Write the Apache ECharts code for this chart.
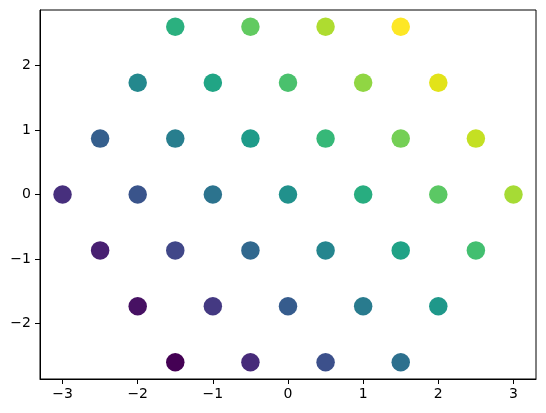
<!DOCTYPE html>
<html>
<head>
<meta charset="utf-8">
<script src="https://cdn.jsdelivr.net/npm/echarts@6/dist/echarts.min.js"></script>
<style>
html,body{margin:0;padding:0;background:#fff;}
#chart{width:546px;height:413px;}
</style>
</head>
<body>
<div id="chart"></div>
<script>
// Hexagonal grid points, row by row from top to bottom
const xVals = [
  -1.5, -0.5, 0.5, 1.5,
  -2, -1, 0, 1, 2,
  -2.5, -1.5, -0.5, 0.5, 1.5, 2.5,
  -3, -2, -1, 0, 1, 2, 3,
  -2.5, -1.5, -0.5, 0.5, 1.5, 2.5,
  -2, -1, 0, 1, 2,
  -1.5, -0.5, 0.5, 1.5
];
const yVals = [
  2.598, 2.598, 2.598, 2.598,
  1.732, 1.732, 1.732, 1.732, 1.732,
  0.866, 0.866, 0.866, 0.866, 0.866, 0.866,
  0, 0, 0, 0, 0, 0, 0,
  -0.866, -0.866, -0.866, -0.866, -0.866, -0.866,
  -1.732, -1.732, -1.732, -1.732, -1.732,
  -2.598, -2.598, -2.598, -2.598
];
// Colour values (viridis scale)
const colorVals = [
  1.10, 2.10, 3.10, 4.10,
  -0.27, 0.73, 1.73, 2.73, 3.73,
  -1.63, -0.63, 0.37, 1.37, 2.37, 3.37,
  -3.0, -2.0, -1.0, 0.0, 1.0, 2.0, 3.0,
  -3.37, -2.37, -1.37, -0.37, 0.63, 1.63,
  -3.73, -2.73, -1.73, -0.73, 0.27,
  -4.10, -3.10, -2.10, -1.10
];
const xTicks = [-3, -2, -1, 0, 1, 2, 3];
const yTicks = [-2, -1, 0, 1, 2];

const viridis = ['#440154','#471365','#482475','#463480','#414487','#3b528b','#355f8d',
  '#2f6c8e','#2a788e','#25848e','#21918c','#1e9c89','#22a884','#2fb47c','#44bf70',
  '#5ec962','#7ad151','#9bd93c','#bddf26','#dfe318','#fde725'];

const data = xVals.map((x, i) => [x, yVals[i], colorVals[i]]);
const fmt = v => String(v).replace('-', '\u2212');
const labelStyle = {color: '#000', fontSize: 14, fontFamily: 'DejaVu Sans'};

const chart = echarts.init(document.getElementById('chart'), null, {renderer: 'canvas'});
chart.setOption({
  animation: false,
  backgroundColor: '#fff',
  grid: {left: 40, top: 10, right: 10, bottom: 34, show: true, borderColor: '#000', borderWidth: 1, backgroundColor: 'transparent'},
  xAxis: {
    type: 'value', min: -3.3, max: 3.3,
    splitLine: {show: false},
    axisLine: {show: true, onZero: false, lineStyle: {color: '#000', width: 1}},
    axisTick: {show: true, customValues: xTicks, length: 5, lineStyle: {color: '#000'}},
    axisLabel: Object.assign({customValues: xTicks, formatter: fmt, margin: 8}, labelStyle)
  },
  yAxis: {
    type: 'value', min: -2.858, max: 2.858,
    splitLine: {show: false},
    axisLine: {show: true, onZero: false, lineStyle: {color: '#000', width: 1}},
    axisTick: {show: true, customValues: yTicks, length: 5, lineStyle: {color: '#000'}},
    axisLabel: Object.assign({customValues: yTicks, formatter: fmt, margin: 9}, labelStyle)
  },
  visualMap: {
    show: false, type: 'continuous', dimension: 2,
    min: -4.10, max: 4.10,
    inRange: {color: viridis}
  },
  series: [{
    type: 'scatter',
    data: data,
    symbol: 'circle',
    symbolSize: 18.5,
    itemStyle: {opacity: 1}
  }]
});
</script>
</body>
</html>
